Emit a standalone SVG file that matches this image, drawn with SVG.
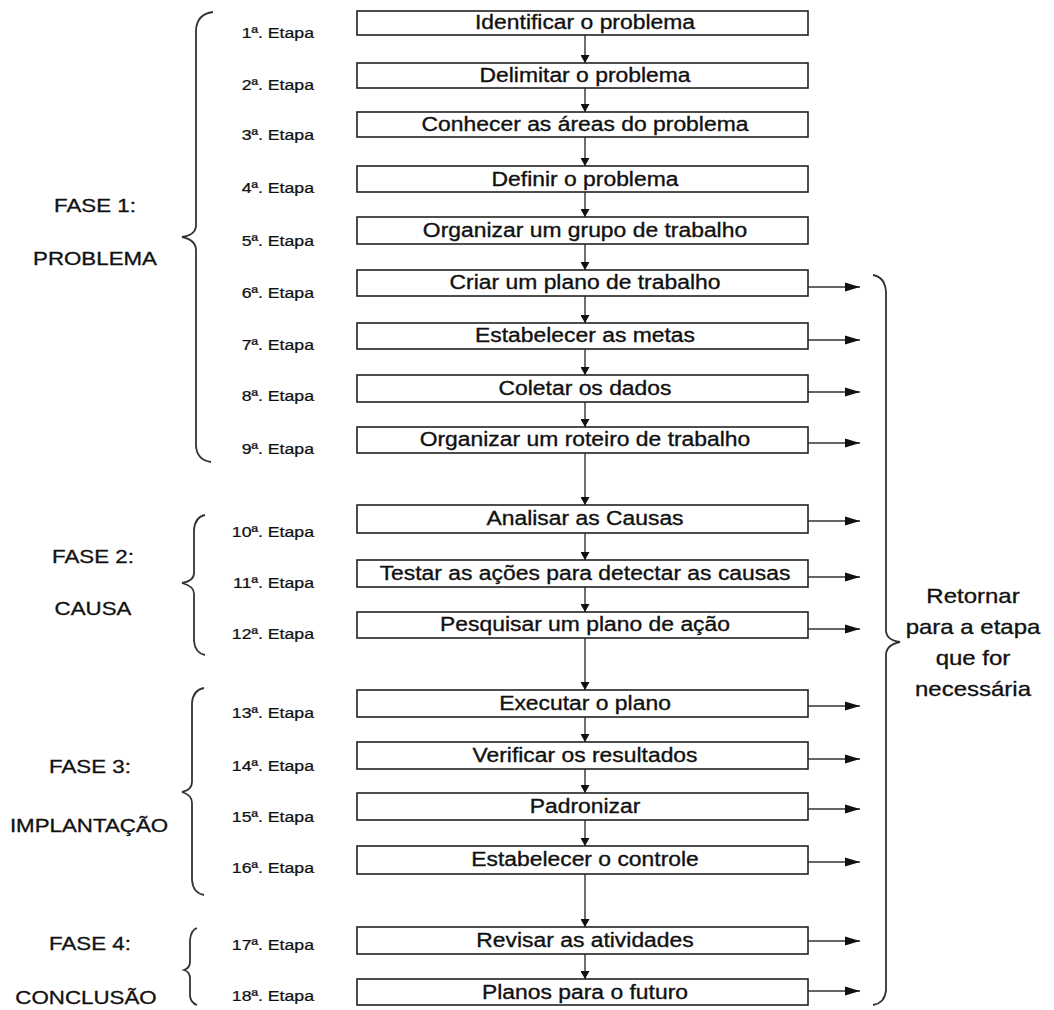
<svg xmlns="http://www.w3.org/2000/svg" width="1054" height="1010" viewBox="0 0 1054 1010">
<style>
.box{fill:#fff;stroke:#222;stroke-width:1.6}
.bt{font-family:"Liberation Sans",Arial,sans-serif;font-size:21px;text-anchor:middle;fill:#111;stroke:#111;stroke-width:0.35}
.et{font-family:"Liberation Sans",Arial,sans-serif;font-size:14.5px;text-anchor:end;fill:#111;stroke:#111;stroke-width:0.25}
.ph{font-family:"Liberation Sans",Arial,sans-serif;font-size:18px;text-anchor:middle;fill:#111;stroke:#111;stroke-width:0.3}
.rt{font-family:"Liberation Sans",Arial,sans-serif;font-size:20px;text-anchor:middle;fill:#111;stroke:#111;stroke-width:0.3}
.ln{stroke:#333;stroke-width:1.4;fill:none}
.br{stroke:#333;stroke-width:1.8;fill:none}
.dn{marker-end:url(#ad)}
.rg{marker-end:url(#ar)}
</style>
<defs>
<marker id="ad" markerUnits="userSpaceOnUse" viewBox="0 0 8 9" markerWidth="8" markerHeight="9" refX="8" refY="4.5" orient="auto"><path d="M0,0 L8,4.5 L0,9z" fill="#111"/></marker>
<marker id="ar" markerUnits="userSpaceOnUse" viewBox="0 0 15 10" markerWidth="15" markerHeight="10" refX="15" refY="5" orient="auto"><path d="M0,0.5 L15,5 L0,9.5z" fill="#111"/></marker>
</defs>
<rect width="1054" height="1010" fill="#fff"/>

<g id="braces">
<path class="br" d="M213,12 Q197,14 196,30 L196,225 Q196,235 182,237 Q196,240 196,250 L196,446 Q197,460 211,462"/>
<path class="br" d="M205,515 Q195,517 194,530 L194,573 Q194,581 182,583 Q194,586 194,594 L194,641 Q195,653 205,655"/>
<path class="br" d="M204,688 Q193,690 192,703 L192,782 Q192,790 182,792 Q192,795 192,803 L192,880 Q193,893 204,895"/>
<path class="br" d="M197,928 Q191,930 190,940 L190,962 Q190,968 184,970 Q190,972 190,978 L190,996 Q191,1003 197,1005"/>
<path class="br" d="M873,275 Q885,277 886,292 L886,630 Q886,640 900,642 Q886,645 886,655 L886,990 Q885,1003 873,1005"/>
</g>

<g id="phases">
<text class="ph" transform="translate(95 212) scale(1.24 1)">FASE 1:</text>
<text class="ph" transform="translate(95 265) scale(1.24 1)">PROBLEMA</text>
<text class="ph" transform="translate(93 563) scale(1.24 1)">FASE 2:</text>
<text class="ph" transform="translate(93 615) scale(1.24 1)">CAUSA</text>
<text class="ph" transform="translate(90 773) scale(1.24 1)">FASE 3:</text>
<text class="ph" transform="translate(89 832) scale(1.24 1)">IMPLANTAÇÃO</text>
<text class="ph" transform="translate(90 950) scale(1.24 1)">FASE 4:</text>
<text class="ph" transform="translate(86 1004) scale(1.24 1)">CONCLUSÃO</text>
</g>

<g id="labels">
<text class="et" transform="translate(314 38) scale(1.22 1)">1ª. Etapa</text>
<text class="et" transform="translate(314 90) scale(1.22 1)">2ª. Etapa</text>
<text class="et" transform="translate(314 140) scale(1.22 1)">3ª. Etapa</text>
<text class="et" transform="translate(314 193) scale(1.22 1)">4ª. Etapa</text>
<text class="et" transform="translate(314 246) scale(1.22 1)">5ª. Etapa</text>
<text class="et" transform="translate(314 298) scale(1.22 1)">6ª. Etapa</text>
<text class="et" transform="translate(314 350) scale(1.22 1)">7ª. Etapa</text>
<text class="et" transform="translate(314 401) scale(1.22 1)">8ª. Etapa</text>
<text class="et" transform="translate(314 454) scale(1.22 1)">9ª. Etapa</text>
<text class="et" transform="translate(314 537) scale(1.22 1)">10ª. Etapa</text>
<text class="et" transform="translate(314 588) scale(1.22 1)">11ª. Etapa</text>
<text class="et" transform="translate(314 639) scale(1.22 1)">12ª. Etapa</text>
<text class="et" transform="translate(314 718) scale(1.22 1)">13ª. Etapa</text>
<text class="et" transform="translate(314 771) scale(1.22 1)">14ª. Etapa</text>
<text class="et" transform="translate(314 822) scale(1.22 1)">15ª. Etapa</text>
<text class="et" transform="translate(314 873) scale(1.22 1)">16ª. Etapa</text>
<text class="et" transform="translate(314 950) scale(1.22 1)">17ª. Etapa</text>
<text class="et" transform="translate(314 1001) scale(1.22 1)">18ª. Etapa</text>
</g>

<g id="connectors">
<line class="ln dn" x1="585" y1="35" x2="585" y2="63"/>
<line class="ln dn" x1="585" y1="88" x2="585" y2="112"/>
<line class="ln dn" x1="585" y1="137" x2="585" y2="166"/>
<line class="ln dn" x1="585" y1="192" x2="585" y2="217"/>
<line class="ln dn" x1="585" y1="244" x2="585" y2="270"/>
<line class="ln dn" x1="585" y1="296" x2="585" y2="323"/>
<line class="ln dn" x1="585" y1="349" x2="585" y2="375"/>
<line class="ln dn" x1="585" y1="402" x2="585" y2="427"/>
<line class="ln dn" x1="585" y1="453" x2="585" y2="505"/>
<line class="ln dn" x1="585" y1="533" x2="585" y2="560"/>
<line class="ln dn" x1="585" y1="587" x2="585" y2="612"/>
<line class="ln dn" x1="585" y1="638" x2="585" y2="690"/>
<line class="ln dn" x1="585" y1="717" x2="585" y2="742"/>
<line class="ln dn" x1="585" y1="769" x2="585" y2="793"/>
<line class="ln dn" x1="585" y1="820" x2="585" y2="846"/>
<line class="ln dn" x1="585" y1="874" x2="585" y2="927"/>
<line class="ln dn" x1="585" y1="954" x2="585" y2="979"/>
<line class="ln rg" x1="808" y1="287" x2="860" y2="287"/>
<line class="ln rg" x1="808" y1="340" x2="860" y2="340"/>
<line class="ln rg" x1="808" y1="392" x2="860" y2="392"/>
<line class="ln rg" x1="808" y1="443" x2="860" y2="443"/>
<line class="ln rg" x1="808" y1="521" x2="860" y2="521"/>
<line class="ln rg" x1="808" y1="577" x2="860" y2="577"/>
<line class="ln rg" x1="808" y1="629" x2="860" y2="629"/>
<line class="ln rg" x1="808" y1="706" x2="860" y2="706"/>
<line class="ln rg" x1="808" y1="759" x2="860" y2="759"/>
<line class="ln rg" x1="808" y1="809" x2="860" y2="809"/>
<line class="ln rg" x1="808" y1="862" x2="860" y2="862"/>
<line class="ln rg" x1="808" y1="941" x2="860" y2="941"/>
<line class="ln rg" x1="808" y1="991" x2="860" y2="991"/>
</g>

<g id="n1"><rect class="box" x="357" y="11" width="451" height="24"/><text class="bt" transform="translate(585 29) scale(1.09 1)">Identificar o problema</text></g>
<g id="n2"><rect class="box" x="357" y="63" width="451" height="25"/><text class="bt" transform="translate(585 82) scale(1.09 1)">Delimitar o problema</text></g>
<g id="n3"><rect class="box" x="357" y="112" width="451" height="25"/><text class="bt" transform="translate(585 131) scale(1.09 1)">Conhecer as áreas do problema</text></g>
<g id="n4"><rect class="box" x="357" y="166" width="451" height="26"/><text class="bt" transform="translate(585 186) scale(1.09 1)">Definir o problema</text></g>
<g id="n5"><rect class="box" x="357" y="217" width="451" height="27"/><text class="bt" transform="translate(585 237) scale(1.09 1)">Organizar um grupo de trabalho</text></g>
<g id="n6"><rect class="box" x="357" y="270" width="451" height="26"/><text class="bt" transform="translate(585 289) scale(1.09 1)">Criar um plano de trabalho</text></g>
<g id="n7"><rect class="box" x="357" y="323" width="451" height="26"/><text class="bt" transform="translate(585 342) scale(1.09 1)">Estabelecer as metas</text></g>
<g id="n8"><rect class="box" x="357" y="375" width="451" height="27"/><text class="bt" transform="translate(585 395) scale(1.09 1)">Coletar os dados</text></g>
<g id="n9"><rect class="box" x="357" y="427" width="451" height="26"/><text class="bt" transform="translate(585 446) scale(1.09 1)">Organizar um roteiro de trabalho</text></g>
<g id="n10"><rect class="box" x="357" y="505" width="451" height="28"/><text class="bt" transform="translate(585 525) scale(1.09 1)">Analisar as Causas</text></g>
<g id="n11"><rect class="box" x="357" y="560" width="451" height="27"/><text class="bt" transform="translate(585 580) scale(1.09 1)">Testar as ações para detectar as causas</text></g>
<g id="n12"><rect class="box" x="357" y="612" width="451" height="26"/><text class="bt" transform="translate(585 631) scale(1.09 1)">Pesquisar um plano de ação</text></g>
<g id="n13"><rect class="box" x="357" y="690" width="451" height="27"/><text class="bt" transform="translate(585 710) scale(1.09 1)">Executar o plano</text></g>
<g id="n14"><rect class="box" x="357" y="742" width="451" height="27"/><text class="bt" transform="translate(585 762) scale(1.09 1)">Verificar os resultados</text></g>
<g id="n15"><rect class="box" x="357" y="793" width="451" height="27"/><text class="bt" transform="translate(585 813) scale(1.09 1)">Padronizar</text></g>
<g id="n16"><rect class="box" x="357" y="846" width="451" height="28"/><text class="bt" transform="translate(585 866) scale(1.09 1)">Estabelecer o controle</text></g>
<g id="n17"><rect class="box" x="357" y="927" width="451" height="27"/><text class="bt" transform="translate(585 947) scale(1.09 1)">Revisar as atividades</text></g>
<g id="n18"><rect class="box" x="357" y="979" width="451" height="26"/><text class="bt" transform="translate(585 999) scale(1.09 1)">Planos para o futuro</text></g>

<g id="return-note">
<text class="rt" transform="translate(973 603) scale(1.2 1)">Retornar</text>
<text class="rt" transform="translate(973 634) scale(1.2 1)">para a etapa</text>
<text class="rt" transform="translate(973 665) scale(1.2 1)">que for</text>
<text class="rt" transform="translate(973 696) scale(1.2 1)">necessária</text>
</g>
</svg>
